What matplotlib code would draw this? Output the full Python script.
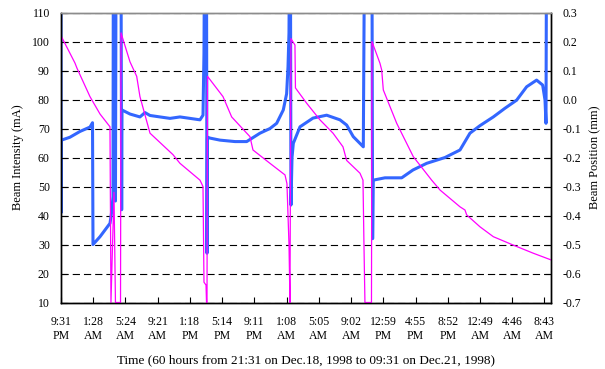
import matplotlib
matplotlib.use('Agg')
from matplotlib import pyplot as plt
from matplotlib.ticker import FixedLocator, MultipleLocator, FormatStrFormatter

plt.rcParams['font.family'] = ['Liberation Serif', 'DejaVu Serif']
plt.rcParams['axes.unicode_minus'] = False

# hours since 21:31 Dec.18 1998
tick_labels = ['9:31\nPM', '1:28\nAM', '5:24\nAM', '9:21\nAM', '1:18\nPM', '5:14\nPM',
               '9:11\nPM', '1:08\nAM', '5:05\nAM', '9:02\nAM', '12:59\nPM', '4:55\nPM',
               '8:52\nPM', '12:49\nAM', '4:46\nAM', '8:43\nAM']
tick_step = 3552 / 15 / 60

# beam intensity (mA)
t_int = [0.00, 1.71, 1.96, 3.55, 4.78, 6.00, 6.12, 6.49, 6.67, 7.29, 7.35, 8.45, 9.27, 9.67,
         10.90, 13.71, 14.57, 17.02, 17.39, 17.51, 17.76, 17.82, 17.88, 17.94, 19.84, 20.90,
         23.14, 23.51, 25.59, 27.43, 27.67, 27.92, 28.04, 28.16, 28.65, 28.71, 30.09, 31.71,
         33.31, 34.53, 34.98, 36.61, 36.98, 37.10, 37.22, 38.02, 38.08, 39.06, 39.27, 39.47,
         41.11, 43.14, 45.39, 46.41, 48.86, 49.47, 49.68, 51.31, 52.94, 55.38, 57.83, 60.00]
intensity = [102, 92.6, 90.8, 81, 75, 70.6, 10, 48, 10, 10, 103, 93, 88, 81,
             68.4, 61, 58, 52.2, 50, 17, 16, 10, 10, 88, 81, 74,
             67.2, 62.6, 58, 54, 51, 30, 10, 101, 98.8, 84, 78.7, 73,
             68.4, 63.7, 59, 54.6, 52.2, 30, 10, 10, 100, 92.5, 90.2, 83.3,
             71.8, 60.3, 52.2, 48.8, 43, 41.9, 40.2, 36.1, 32.7, 29.8, 27, 24.7]

# beam position (mm), 0.5 = off scale
t_pos = [0.00, 0.02, 0.06, 1.10, 2.33, 3.55, 3.86, 3.92, 4.78, 5.39, 6.00, 6.21, 6.37, 6.41,
         6.61, 6.67, 6.74, 7.35, 7.43, 7.47, 8.45, 9.67, 10.29, 10.90, 12.12, 13.35, 14.57,
         15.80, 17.02, 17.39, 17.51, 17.57, 17.82, 17.88, 17.94, 18.25, 19.47, 21.31, 22.74,
         24.37, 25.59, 26.41, 27.22, 27.63, 27.80, 27.92, 27.98, 28.10, 28.16, 28.29, 28.45,
         29.27, 30.86, 32.53, 34.16, 34.98, 35.79, 37.02, 37.16, 38.08, 38.16, 38.24, 39.67,
         41.72, 43.10, 44.78, 47.02, 48.86, 50.08, 51.31, 52.94, 54.37, 55.80, 57.02, 58.24,
         58.98, 59.27, 59.39, 59.45, 60.00]
position = [0.5, -0.39, -0.14, -0.13, -0.11, -0.095, -0.08, -0.50, -0.473, -0.45, -0.427, -0.387, -0.335, 0.5,
            0.5, -0.35, 0.5, 0.5, -0.38, -0.036, -0.05, -0.06, -0.045, -0.055, -0.06, -0.065, -0.06,
            -0.065, -0.07, -0.054, 0.16, 0.5, 0.5, -0.53, -0.13, -0.133, -0.14, -0.145, -0.145,
            -0.116, -0.10, -0.082, -0.036, 0.02, 0.113, 0.23, 0.5, 0.5, -0.364, -0.20, -0.151,
            -0.094, -0.064, -0.054, -0.07, -0.088, -0.128, -0.163, 0.5, 0.5, -0.48, -0.278, -0.27,
            -0.27, -0.243, -0.22, -0.20, -0.174, -0.116, -0.09, -0.06, -0.03, -0.002, 0.044, 0.067,
            0.05, -0.002, -0.082, 0.5, 0.5]

fig = plt.figure(figsize=(6.05, 3.69), dpi=100)
ax = fig.add_subplot(111)
ax2 = ax.twinx()
fig.subplots_adjust(left=0.1008, right=0.9107, top=0.966, bottom=0.1802)

ax2.yaxis.grid(True, color='black', linestyle=(0, (6.5, 3.6)), linewidth=0.8)
ax2.plot(t_pos, position, color='#3366ff', lw=2.2)
ax2.set_ylim(-0.7, 0.3)
ax2.yaxis.set_major_locator(MultipleLocator(0.1))
ax2.yaxis.set_major_formatter(FormatStrFormatter('%.1f'))
ax2.set_ylabel('Beam Position (mm)', fontsize=9, labelpad=6)

ax.set_zorder(ax2.get_zorder() + 1)
ax.patch.set_visible(False)
ax.plot(t_int, intensity, color='#ff00ff', lw=0.9)
ax.set_ylim(10, 110)
ax.set_xlim(0, 60)
ax.yaxis.set_major_locator(MultipleLocator(10))
ax.xaxis.set_major_locator(FixedLocator([k * tick_step for k in range(16)]))
ax.set_xticklabels(tick_labels)
ax.set_ylabel('Beam Intensity (mA)', fontsize=9, labelpad=6)
ax.set_xlabel('Time (60 hours from 21:31 on Dec.18, 1998 to 09:31 on Dec.21, 1998)',
              fontsize=9.5, labelpad=9)

for a in (ax, ax2):
    a.tick_params(direction='in', length=4, width=0.8, labelsize=8.5, pad=8)
    for s in a.spines.values():
        s.set_linewidth(1.0)
    a.spines['top'].set_color('0.55')
ax.tick_params(axis='x', pad=10)

plt.savefig('out.png', dpi=100)
